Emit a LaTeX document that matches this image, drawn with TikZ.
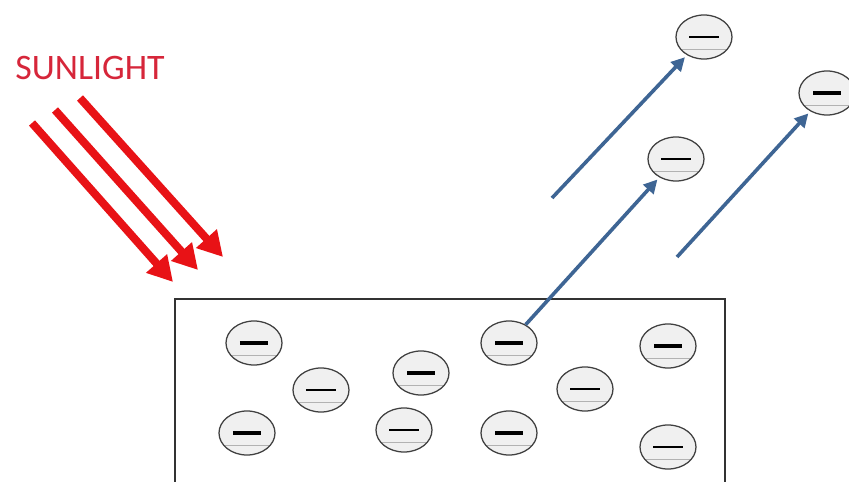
\documentclass[tikz,border=0pt]{standalone}
\usepackage{fontspec}
\newfontfamily\labelfont{Carlito}
\usetikzlibrary{shapes.geometric,arrows.meta}

\definecolor{sunred}{RGB}{232,18,22}
\definecolor{sunlabel}{RGB}{214,38,58}
\definecolor{flyblue}{RGB}{62,101,148}

\newcommand{\thickminus}{\rule[-0.05cm]{0.7cm}{0.11cm}}
\newcommand{\thinminus}{\rule[-0.025cm]{0.75cm}{0.055cm}}

\tikzset{
  electron/.style={ellipse, draw=black!75, line width=0.9pt, fill=black!6,
    minimum width=1.4cm, minimum height=1.1cm, inner sep=0pt,
    path picture={\draw[black!30, line width=0.6pt]
      ([yshift=-0.3cm]path picture bounding box.west) --
      ([yshift=-0.3cm]path picture bounding box.east);}},
  ray/.style={sunred, line width=0.2cm,
    -{Triangle[length=0.62cm, width=0.66cm]}},
  escape/.style={flyblue, line width=0.09cm,
    -{Triangle[length=0.34cm, width=0.34cm]}, shorten >=2pt}
}

\begin{document}
\begin{tikzpicture}[x=0.025cm, y=-0.025cm]
  \useasboundingbox (0,0) rectangle (849,481);

  % metal plate, its bottom runs off the page
  \draw[black!80, line width=1.2pt] (175,490) |- (725,299) -- (725,490);

  % electrons, bold ones and light ones
  \foreach \n/\x/\y in {e1/254/343, e3/247/433, e4/421/373, e6/509/343,
                        e8/509/433, e9/668/346, e13/827/93}{
    \node[electron] (\n) at (\x,\y) {\thickminus};
  }
  \foreach \n/\x/\y in {e2/321/390, e5/404/430, e7/585/389,
                        e10/668/447, e11/704/37, e12/676/159}{
    \node[electron] (\n) at (\x,\y) {\thinminus};
  }

  % incoming light
  \node[text=sunlabel, font=\labelfont\fontsize{25.5}{30}\selectfont]
    (sun) at (90,68) {SUNLIGHT};
  \coordinate (r1a) at (32,123);  \coordinate (r1b) at (173,282);
  \coordinate (r2a) at (55,110);  \coordinate (r2b) at (198,270);
  \coordinate (r3a) at (80,98);   \coordinate (r3b) at (223,257);
  \foreach \r in {1,2,3}{
    \draw[ray] (r\r a) -- (r\r b);
  }

  % ejected electrons
  \coordinate (f1) at (552,198);
  \coordinate (f3) at (677,257);
  \draw[escape] (f1) -- (e11);
  \draw[escape] (e6) -- (e12);
  \draw[escape] (f3) -- (e13);
\end{tikzpicture}
\end{document}
